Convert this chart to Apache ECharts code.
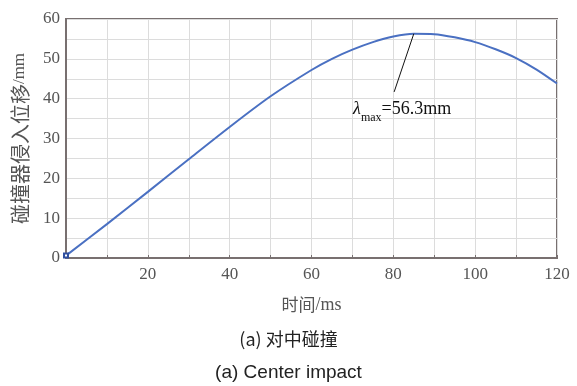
<!DOCTYPE html>
<html><head><meta charset="utf-8">
<script src="https://cdn.jsdelivr.net/npm/echarts@6/dist/echarts.min.js"></script>
<style>html,body{margin:0;padding:0;background:#fff}#c{width:577px;height:386px}</style>
</head><body><div id="c"></div>
<script>
const timeMs = [0, 10, 20, 30, 40, 50, 60, 65, 70, 75, 80, 85, 90, 95, 100, 105, 110, 115, 120];
const displacement = [0.6, 8.5, 16.6, 24.8, 32.9, 40.6, 47.2, 50.0, 52.3, 54.2, 55.6, 56.3, 56.2, 55.4, 54.2, 52.4, 50.2, 47.3, 43.8];
const peak = [85, 56.3];
const leaderEnd = [80.2, 41.7];
const yNameCJK = '碰撞器侵入位移';
const yNameUnit = '/mm';
const xNameCJK = '时间';
const xNameUnit = '/ms';
const caption1 = '(a) 对中碰撞';
const caption2 = '(a) Center impact';

const chart = echarts.init(document.getElementById('c'));
const serif = '"Liberation Serif","DejaVu Serif",serif';
const cjk = '"Noto Sans CJK SC", sans-serif';
chart.setOption({
  animation: false,
  grid: {left: 66, right: 20, top: 19, bottom: 128, show: true, borderColor: '#787070', borderWidth: 2, backgroundColor: 'transparent'},
  xAxis: {
    type: 'value', min: 0, max: 120, interval: 10,
    axisLine: {show: true, lineStyle: {color: '#787070', width: 2}},
    axisTick: {show: true, inside: true, length: 3, lineStyle: {color: '#787070'}},
    splitLine: {show: true, lineStyle: {color: '#dcdcdc', width: 1}},
    axisLabel: {fontFamily: serif, fontSize: 17, color: '#555', margin: 8,
      formatter: v => (v % 20 === 0 && v > 0) ? String(v) : ''},
    name: '{c|' + xNameCJK + '}{u|' + xNameUnit + '}', nameLocation: 'middle', nameGap: 38,
    nameTextStyle: {rich: {
      c: {fontFamily: cjk, fontSize: 17, color: '#555'},
      u: {fontFamily: serif, fontSize: 18, color: '#555'}
    }}
  },
  yAxis: {
    type: 'value', min: 0, max: 60, interval: 5,
    axisLine: {show: true, lineStyle: {color: '#787070', width: 2}},
    axisTick: {show: false},
    splitLine: {show: true, lineStyle: {color: '#dcdcdc', width: 1}},
    axisLabel: {fontFamily: serif, fontSize: 17, color: '#555', margin: 6,
      formatter: v => (v % 10 === 0) ? String(v) : ''},
    name: '{c|' + yNameCJK + '}{u|' + yNameUnit + '}', nameLocation: 'middle', nameGap: 36,
    nameTextStyle: {rich: {
      c: {fontFamily: cjk, fontSize: 20, color: '#555'},
      u: {fontFamily: serif, fontSize: 17, color: '#555'}
    }}
  },
  graphic: [
    {type: 'text', left: 'center', top: 330, style: {text: caption1, font: '18px "Noto Sans CJK SC", sans-serif', fill: '#222'}},
    {type: 'text', left: 'center', top: 363, style: {text: caption2, font: '19px "Liberation Sans", Arial, sans-serif', fill: '#222'}}
  ],
  series: [{
    type: 'line',
    data: timeMs.map((t, i) => i === 0
      ? {value: [t, displacement[i]], symbol: 'emptyRect', symbolSize: 4, itemStyle: {color: '#3050a0', borderColor: '#3050a0', borderWidth: 1}}
      : [t, displacement[i]]),
    smooth: 0.3,
    symbol: 'none',
    showSymbol: true,
    lineStyle: {color: '#4a70c2', width: 2},
    markLine: {
      silent: true, symbol: 'none',
      lineStyle: {color: '#111', width: 1, type: 'solid'},
      label: {show: false},
      data: [[{coord: peak}, {coord: leaderEnd}]]
    },
    markPoint: {
      symbol: 'circle', symbolSize: 0,
      data: [{coord: leaderEnd}],
      label: {
        show: true, position: 'bottom', distance: 4, offset: [8, 4],
        formatter: '{l|λ}{s|max}{v|=56.3mm}',
        rich: {
          l: {fontFamily: serif, fontStyle: 'italic', fontSize: 18, color: '#111', lineHeight: 24, verticalAlign: 'top'},
          s: {fontFamily: serif, fontSize: 12, color: '#111', lineHeight: 12, verticalAlign: 'bottom'},
          v: {fontFamily: serif, fontSize: 18, color: '#111', lineHeight: 24, verticalAlign: 'top'}
        }
      }
    }
  }]
});
</script></body></html>
